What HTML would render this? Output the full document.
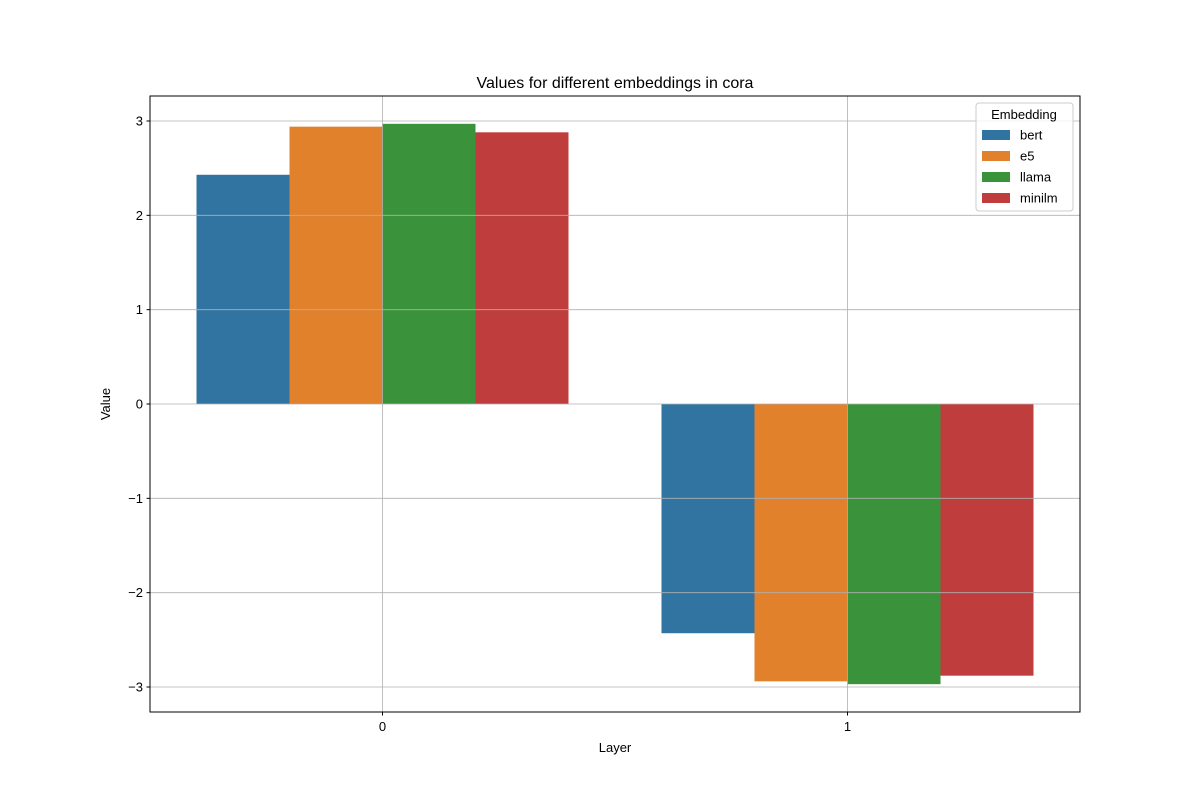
<!DOCTYPE html>
<html><head><meta charset="utf-8"><style>
html,body{margin:0;padding:0;background:#fff;}
svg text{font-family:"Liberation Sans","DejaVu Sans",sans-serif;}
</style></head><body>
<svg id="chart" width="1200" height="800" viewBox="0 0 1200 800" xmlns="http://www.w3.org/2000/svg">
<rect width="1200" height="800" fill="#fff"/>
<g id="bars"></g>
<g id="grid"></g>
<rect x="150" y="96" width="930" height="616" fill="none" stroke="#000" stroke-width="1"/>
<g id="ticks"></g>
<text x="615" y="88" font-size="16" text-anchor="middle">Values for different embeddings in cora</text>
<text x="615" y="752" font-size="13" text-anchor="middle">Layer</text>
<text x="110" y="404" font-size="13" text-anchor="middle" transform="rotate(-90 110 404)">Value</text>
<g id="legend">
<rect x="976" y="103" width="97" height="108" rx="3" fill="#fff" fill-opacity="0.8" stroke="#ccc"/>
<text x="1024" y="119" font-size="13" text-anchor="middle">Embedding</text>
</g>
</svg>
<script>
const categories = ["0", "1"];
const seriesNames = ["bert", "e5", "llama", "minilm"];
const colors = ["#3274a1", "#e1812c", "#3a923a", "#c03d3e"];
const bertValues = [2.43, -2.43];
const e5Values = [2.94, -2.94];
const llamaValues = [2.97, -2.97];
const minilmValues = [2.88, -2.88];
const yTicks = [-3, -2, -1, 0, 1, 2, 3];
const yTickLabels = ["\u22123", "\u22122", "\u22121", "0", "1", "2", "3"];

const seriesValues = [bertValues, e5Values, llamaValues, minilmValues];
const NS = "http://www.w3.org/2000/svg";
const plotLeft = 150, plotRight = 1080, plotTop = 96, plotBottom = 712;
const yMin = -3.265, yMax = 3.265;
const yScale = v => plotBottom - (v - yMin) / (yMax - yMin) * (plotBottom - plotTop);
const xMin = -0.5, xMax = 1.5;
const xScale = v => plotLeft + (v - xMin) / (xMax - xMin) * (plotRight - plotLeft);
function mk(tag, attrs, parent) {
  const e = document.createElementNS(NS, tag);
  for (const k in attrs) e.setAttribute(k, attrs[k]);
  parent.appendChild(e);
  return e;
}
const barsG = document.getElementById('bars');
const gridG = document.getElementById('grid');
const ticksG = document.getElementById('ticks');
const bw = 0.2;
seriesValues.forEach((vals, s) => {
  vals.forEach((v, i) => {
    const x0 = xScale(i - 0.4 + s * bw);
    const x1 = xScale(i - 0.4 + (s + 1) * bw);
    const r = mk('rect', {x: x0, y: Math.min(yScale(v), yScale(0)), width: x1 - x0, height: Math.abs(yScale(v) - yScale(0)), fill: colors[s]}, barsG);
    
    
  });
});
yTicks.forEach((t, i) => {
  const g = mk('line', {x1: plotLeft, x2: plotRight, y1: yScale(t), y2: yScale(t), stroke: '#b0b0b0', 'stroke-width': 0.8}, gridG);
  
  
  mk('line', {x1: plotLeft - 3.5, x2: plotLeft, y1: yScale(t), y2: yScale(t), stroke: '#000'}, ticksG);
  const tl = mk('text', {x: plotLeft - 7, y: yScale(t) + 4.5, 'font-size': 13, 'text-anchor': 'end'}, ticksG);
  tl.textContent = yTickLabels[i];
  
  
});
categories.forEach((c, i) => {
  const g = mk('line', {x1: xScale(i), x2: xScale(i), y1: plotTop, y2: plotBottom, stroke: '#b0b0b0', 'stroke-width': 0.8}, gridG);
  
  
  mk('line', {x1: xScale(i), x2: xScale(i), y1: plotBottom, y2: plotBottom + 3.5, stroke: '#000'}, ticksG);
  const tl = mk('text', {x: xScale(i), y: plotBottom + 19, 'font-size': 13, 'text-anchor': 'middle'}, ticksG);
  tl.textContent = c;
  
  
});
const legendG = document.getElementById('legend');
seriesNames.forEach((n, s) => {
  const cy = 135 + s * 21;
  const p = mk('rect', {x: 982, y: cy - 5, width: 28, height: 10, fill: colors[s]}, legendG);
  
  
  const t = mk('text', {x: 1020, y: cy + 4.5, 'font-size': 13}, legendG);
  t.textContent = n;
  
  
});
</script>
</body></html>
